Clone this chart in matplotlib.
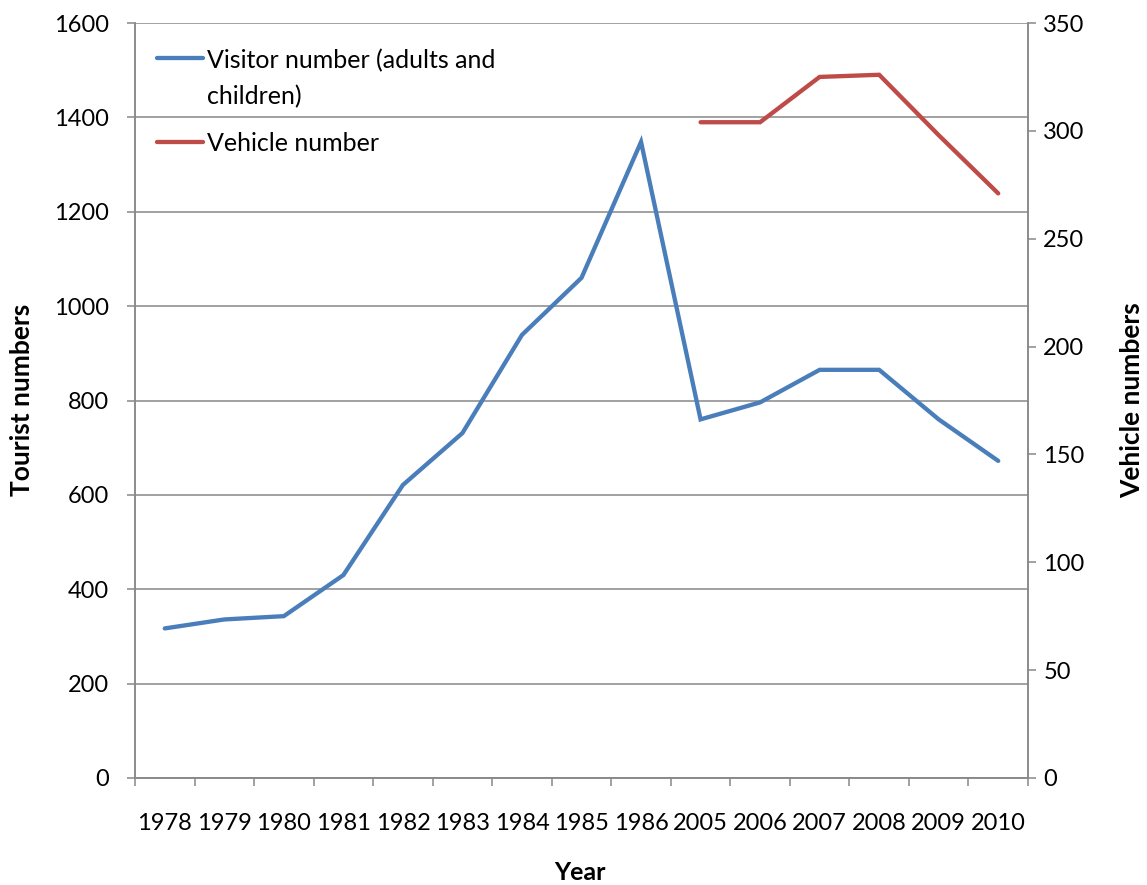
import numpy as np
import matplotlib
matplotlib.use("Agg")
import matplotlib.pyplot as plt
from matplotlib.legend_handler import HandlerLine2D

years = ["1978", "1979", "1980", "1981", "1982", "1983", "1984", "1985",
         "1986", "2005", "2006", "2007", "2008", "2009", "2010"]
visitors = [317, 336, 343, 430, 621, 731, 939, 1060,
            1348, 760, 796, 865, 865, 760, 672]
vehicles = [np.nan] * 9 + [304, 304, 325, 326, 298, 271]

plt.rcParams["font.family"] = ["Lato", "DejaVu Sans"]
BLUE = "#4A7EBB"
RED = "#BE4B48"
GRID = "#888888"
FS = 17
LEG_FS = 18


class FirstLineHandler(HandlerLine2D):
    """Legend line that sits level with the first line of a wrapped label."""

    def __init__(self, shift=0.0, **kw):
        super().__init__(**kw)
        self.shift = shift

    def create_artists(self, legend, orig_handle, xdescent, ydescent,
                       width, height, fontsize, trans):
        artists = super().create_artists(legend, orig_handle, xdescent, ydescent,
                                         width, height, fontsize, trans)
        for a in artists:
            a.set_ydata(np.asarray(a.get_ydata()) + self.shift)
        return artists


fig = plt.figure(figsize=(11.47, 8.85), dpi=100)
ax = fig.add_axes([135 / 1147, 1 - 778 / 885, (1028 - 135) / 1147, (778 - 23) / 885])
ax2 = ax.twinx()

x = np.arange(len(years))
l1, = ax.plot(x, visitors, color=BLUE, lw=3.1, solid_capstyle="round",
              solid_joinstyle="miter", label="Visitor number (adults and\nchildren)", zorder=3)
l2, = ax2.plot(x, vehicles, color=RED, lw=3.1, solid_capstyle="round",
               solid_joinstyle="miter", label="Vehicle number", zorder=3)

ax.set_xlim(-0.5, len(years) - 0.5)
ax.set_ylim(0, 1600)
ax2.set_ylim(0, 350)
ax.set_yticks(np.arange(0, 1601, 200))
ax2.set_yticks(np.arange(0, 351, 50))

ax.set_xticks(np.arange(-0.5, len(years), 1))
ax.set_xticklabels([])
ax.set_xticks(x, minor=True)
ax.set_xticklabels(years, minor=True)

ax.grid(axis="y", color=GRID, lw=1.1, zorder=0)
ax.set_axisbelow(True)

for a in (ax, ax2):
    for s in a.spines.values():
        s.set_color(GRID)
        s.set_linewidth(1.1)
    a.spines["top"].set_visible(False)

ax.tick_params(axis="x", which="major", length=6, color=GRID, width=1.1)
ax.tick_params(axis="x", which="minor", length=0, pad=25, labelsize=FS)
ax.tick_params(axis="y", length=6, color=GRID, width=1.1, pad=13, labelsize=FS)
ax2.tick_params(axis="y", length=6, color=GRID, width=1.1, pad=5, labelsize=FS)

leg = ax.legend(handles=[l1, l2], loc="upper left", bbox_to_anchor=(0.0134, 0.979),
                frameon=False, fontsize=LEG_FS, handlelength=1.84, handletextpad=0.16,
                labelspacing=0.95, borderaxespad=0.0,
                handler_map={l1: FirstLineHandler(shift=15.0)})
leg.get_texts()[0].set_linespacing(1.64)

fig.text(22 / 1147, 1 - 400 / 885, "Tourist numbers", rotation=90, ha="center",
         va="center", fontsize=19, fontweight="bold")
fig.text(1132 / 1147, 1 - 400 / 885, "Vehicle numbers", rotation=90, ha="center",
         va="center", fontsize=19, fontweight="bold")
fig.text(580 / 1147, 1 - 873 / 885, "Year", ha="center", va="center",
         fontsize=18, fontweight="bold")

fig.savefig("out.png", dpi=100)
